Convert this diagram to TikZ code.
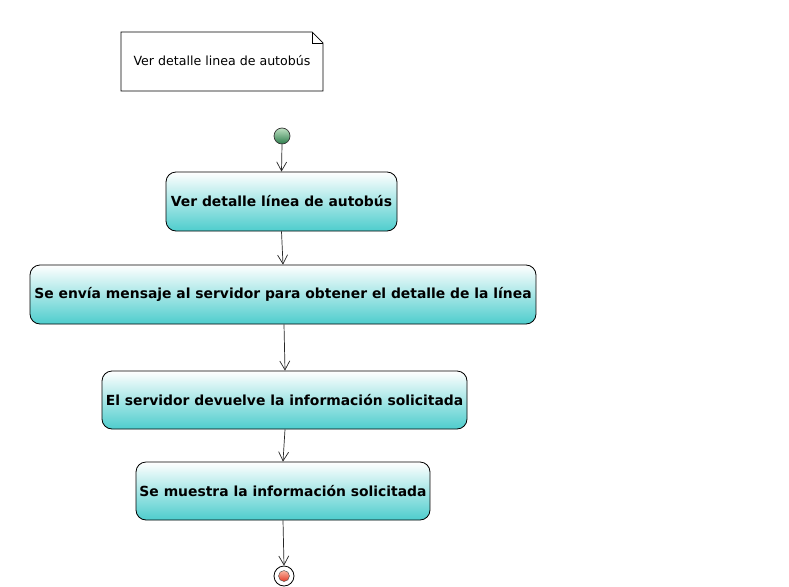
\documentclass[tikz,border=0pt]{standalone}
\usepackage{fontspec}
\setmainfont{DejaVu Sans}
\usetikzlibrary{arrows.meta,shapes.misc,calc}
\definecolor{teal1}{RGB}{78,205,205}
\definecolor{gtop}{RGB}{190,225,195}
\definecolor{gbot}{RGB}{45,125,75}
\definecolor{rtop}{RGB}{250,180,160}
\definecolor{rbot}{RGB}{225,60,40}
\begin{document}
\begin{tikzpicture}[x=1pt,y=-1pt,
  act/.style={draw=black,line width=0.8pt,rounded corners=10pt,top color=white,bottom color=teal1,
    inner sep=0pt,font=\bfseries\fontsize{13.9}{16}\selectfont,align=center},
  flow/.style={draw=black!85,line width=0.7pt,-{Straight Barb[length=9pt,width=10pt,line width=0.7pt]}},
  notetext/.style={font=\fontsize{12.6}{15}\selectfont}
]
\useasboundingbox (0,0) rectangle (789,586);
\fill[white] (0,0) rectangle (789,586);
% note
\draw[line width=0.7pt,fill=white] (121,32) -- (312,32) -- (323,43) -- (323,91) -- (121,91) -- cycle;
\draw[line width=0.7pt] (312,32) -- (312,43) -- (323,43);
\node[notetext] (note) at (222,61) {Ver detalle linea de autobús};
% start
\node[circle,draw=black!80,line width=0.7pt,minimum size=16pt,inner sep=0pt,top color=gtop,bottom color=gbot] (start) at (282,136) {};
% activities
\node[act,minimum width=231pt,minimum height=59pt] (a1) at (281.5,201.5) {Ver detalle línea de autobús};
\node[act,minimum width=506pt,minimum height=59pt] (a2) at (283,294.5) {Se envía mensaje al servidor para obtener el detalle de la línea};
\node[act,minimum width=365pt,minimum height=58pt] (a3) at (284.5,400) {El servidor devuelve la información solicitada};
\node[act,minimum width=294pt,minimum height=58pt] (a4) at (283,491) {Se muestra la información solicitada};
% end
\node[circle,draw=black,line width=0.8pt,fill=white,minimum size=20pt,inner sep=0pt] (end) at (284,576) {};
\node[circle,draw=black!70,line width=0.4pt,minimum size=11pt,inner sep=0pt,top color=rtop,bottom color=rbot] (endin) at (284,576) {};
% flows
\draw[flow] (start.south) -- (a1.north);
\draw[flow] (a1.south) -- ($(a2.north)+(0,0)$);
\draw[flow] ($(a2.south)+(1,0)$) -- ($(a3.north)+(0.5,0)$);
\draw[flow] ($(a3.south)+(0.5,0)$) -- (a4.north);
\draw[flow] (a4.south) -- (end.north);
\end{tikzpicture}
\end{document}
